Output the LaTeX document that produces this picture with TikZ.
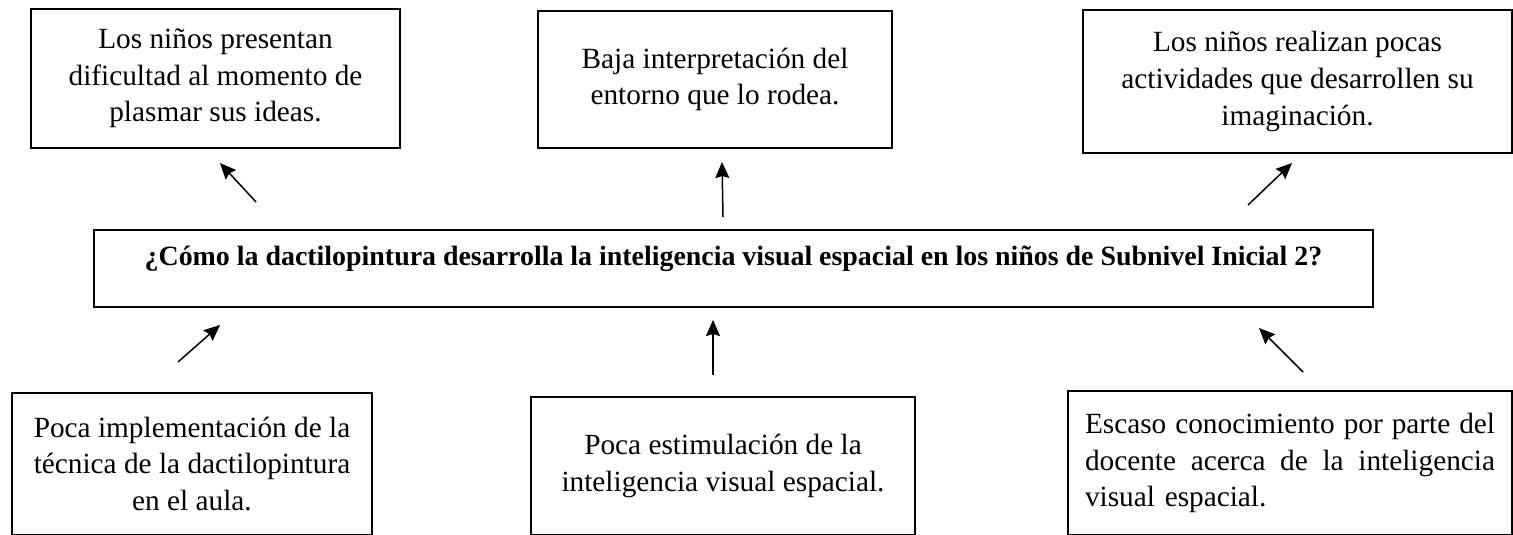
\documentclass[tikz,border=0pt]{standalone}
\usepackage{fontspec}
\setmainfont{Liberation Serif}
\usetikzlibrary{arrows.meta}
\tikzset{
  caja/.style={draw,line width=2.2pt,inner sep=0pt,align=center,
    font=\fontsize{29.3}{36.7}\selectfont},
  flecha/.style={->,line width=1.5pt}
}
\begin{document}
\begin{tikzpicture}[x=1pt,y=-1pt,line join=miter,>={Stealth[length=16pt,width=14pt,inset=2pt]}]
\useasboundingbox (0,0) rectangle (1513,535);
% efectos
\node[caja,minimum width=369,minimum height=139] (efecto1) at (215.5,78.5)
  {Los niños presentan\\dificultad al momento de\\plasmar sus ideas.};
\node[caja,minimum width=354,minimum height=137] (efecto2) at (715,79.5)
  {Baja interpretación del\\entorno que lo rodea.};
\node[caja,minimum width=429,minimum height=143] (efecto3) at (1297.5,81.5)
  {Los niños realizan pocas\\actividades que desarrollen su\\imaginación.};
% problema
\node[caja,minimum width=1279,minimum height=77,text height=21pt,text depth=28pt,
  font=\fontsize{27.9}{32}\selectfont\bfseries] (problema) at (733.5,268.5)
  {¿Cómo la dactilopintura desarrolla la inteligencia visual espacial en los niños de Subnivel Inicial 2?};
% causas
\node[caja,minimum width=360,minimum height=142] (causa1) at (192,464)
  {Poca implementación de la\\técnica de la dactilopintura\\en el aula.};
\node[caja,minimum width=384,minimum height=138] (causa2) at (723,466)
  {Poca estimulación de la\\inteligencia visual espacial.};
\node[caja,minimum width=444,minimum height=144,align=left,text width=410] (causa3) at (1290,463)
  {\makebox[410pt][s]{Escaso\hfill conocimiento\hfill por\hfill parte\hfill del}\\
   \makebox[410pt][s]{docente\hfill acerca\hfill de\hfill la\hfill inteligencia}\\
   visual espacial.};
% flechas
\coordinate (a1) at (256,202); \coordinate (p1) at (220,163);
\coordinate (a2) at (723,217); \coordinate (p2) at (722,162);
\coordinate (a3) at (1248,205); \coordinate (p3) at (1292,163);
\coordinate (a4) at (178,362); \coordinate (p4) at (220,325);
\coordinate (a5) at (713,375); \coordinate (p5) at (713,320);
\coordinate (a6) at (1303,372); \coordinate (p6) at (1259,328);
\foreach \i in {1,...,6}
  \draw[flecha] (a\i) -- (p\i);
\end{tikzpicture}
\end{document}
